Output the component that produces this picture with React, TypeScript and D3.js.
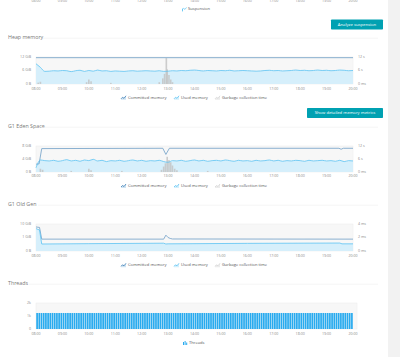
import React from 'react';
import * as d3 from 'd3';

const FONT = "'Open Sans', 'DejaVu Sans', sans-serif";

const HOUR_LABELS = ['08:00','09:00','10:00','11:00','12:00','13:00','14:00','15:00','16:00','17:00','18:00','19:00','20:00'];

// Heap memory (GiB), 10-minute samples from 08:00
const heapUsed = [
  9.0, 7.4, 5.6, 5.7, 5.9, 5.8,
  6.0, 5.9, 5.5, 5.9, 6.1, 5.6,
  6.0, 5.7, 6.2, 5.8, 5.9, 5.6,
  5.8, 5.7, 5.6, 5.8, 5.9, 5.7,
  5.8, 5.9, 5.8, 5.7, 5.9, 5.6,
  5.7, 5.9, 5.8, 6.0, 5.9, 6.1,
  6.2, 6.0, 5.8, 6.0, 5.9, 5.8,
  6.0, 5.9, 6.1, 5.8, 5.9, 6.0,
  5.9, 5.8, 5.7, 5.8, 6.0, 6.1,
  5.9, 6.0, 5.8, 5.9, 6.0, 6.2,
  6.0, 6.1, 5.9, 6.0, 6.2, 6.0,
  6.1, 5.9, 6.0, 6.2, 6.1, 5.9,
  6.0,
];
const heapCommittedTimes = ['08:00', '20:00'];
const heapCommitted = [11.7, 11.7];
const heapGcTimes = ['08:05','08:10','09:55','10:00','10:05','10:50','12:40','12:48','12:52','12:56','12:58','13:02','13:06','13:10'];
const heapGc = [0.6, 1.0, 0.8, 2.0, 1.2, 0.5, 0.8, 2.5, 4.5, 11.5, 6.5, 4.0, 2.0, 0.8];

// G1 Eden Space (GiB)
const edenUsed = [
  1.3, 3.7, 3.5, 3.4, 3.6, 3.3,
  3.5, 3.8, 3.4, 3.6, 3.3, 3.7,
  3.5, 3.9, 3.4, 3.6, 3.2, 3.5,
  3.4, 3.6, 3.3, 3.5, 3.7, 3.4,
  3.6, 3.3, 3.5, 3.4, 3.6, 3.2,
  3.0, 3.5, 3.4, 3.6, 3.3, 3.5,
  3.7, 3.4, 3.6, 3.3, 3.5, 3.6,
  3.4, 3.7, 3.5, 3.3, 3.6, 3.4,
  3.5, 3.3, 3.6, 3.4, 3.5, 3.7,
  3.4, 3.6, 3.3, 3.5, 3.4, 3.6,
  3.5, 3.3, 3.6, 3.4, 3.5, 3.6,
  3.4, 3.5, 3.3, 3.6, 3.2, 3.5,
  3.4,
];
const edenCommittedTimes = ['08:00','08:07','08:13','12:48','12:55','13:03','19:28','19:33','19:38','20:00'];
const edenCommitted = [2.4, 2.5, 7.2, 7.3, 5.4, 7.3, 7.3, 7.0, 7.3, 7.3];
const edenGcTimes = ['08:10','08:15','09:20','10:00','10:05','11:15','12:45','12:50','12:54','12:58','13:02','13:06','13:10','13:15','13:20','14:30'];
const edenGc = [1.5, 1.0, 0.5, 1.5, 0.8, 0.5, 1.0, 2.5, 4.0, 7.0, 5.5, 4.5, 3.0, 1.5, 0.8, 0.5];

// G1 Old Gen (GiB)
const oldCommittedTimes = ['08:00','08:08','08:13','12:50','12:55','13:00','13:05','13:10','20:00'];
const oldCommitted = [6.0, 5.5, 0.66, 0.66, 1.4, 0.9, 0.75, 0.68, 0.66];
const oldUsedTimes = ['08:00','08:08','08:13','10:00','12:50','12:55','13:00','16:00','19:30','19:35','20:00'];
const oldUsed = [4.5, 3.5, 0.23, 0.25, 0.28, 0.23, 0.24, 0.27, 0.29, 0.24, 0.24];

// Threads, 5-minute samples from 08:00
const threads = [
  1230, 1232, 1228, 1231, 1233, 1229, 1230, 1234, 1231, 1228, 1230, 1232,
  1231, 1229, 1233, 1230, 1228, 1232, 1231, 1230, 1229, 1233, 1231, 1230,
  1232, 1230, 1229, 1231, 1234, 1230, 1228, 1231, 1232, 1230, 1229, 1231,
  1230, 1233, 1231, 1229, 1230, 1232, 1231, 1228, 1230, 1233, 1231, 1230,
  1229, 1231, 1232, 1230, 1228, 1231, 1233, 1230, 1229, 1232, 1230, 1231,
  1230, 1228, 1231, 1233, 1230, 1229, 1232, 1231, 1230, 1228, 1231, 1232,
  1231, 1230, 1229, 1232, 1233, 1230, 1228, 1231, 1230, 1232, 1229, 1231,
  1230, 1232, 1231, 1229, 1230, 1233, 1231, 1228, 1230, 1232, 1231, 1230,
  1229, 1231, 1233, 1230, 1228, 1232, 1231, 1230, 1229, 1231, 1232, 1230,
  1231, 1230, 1228, 1232, 1233, 1230, 1229, 1231, 1230, 1232, 1231, 1229,
  1230, 1232, 1231, 1228, 1230, 1233, 1231, 1230, 1229, 1231, 1232, 1230,
  1231, 1229, 1230, 1232, 1231, 1230, 1228, 1231, 1233, 1230, 1229, 1231,
];

const toH = (s: string) => { const [h, m] = s.split(':').map(Number); return h + m / 60; };
const grid10 = (vals: number[]) => vals.map((_, i) => 8 + i / 6);

const X0 = 36, X1 = 353;
const x = d3.scaleLinear().domain([8, 20]).range([X0, X1]);

const C_COMMIT = '#6e9ec6';
const C_USED = '#5cc3f2';
const C_FILL = '#d6effb';
const C_GC = '#c4c4c4';
const C_TICK = '#8a8a8a';
const C_THREAD = '#29abef';

function linePath(times: number[], vals: number[], y: any, curve = d3.curveMonotoneX) {
  const pts = times.map((t, i) => [t, vals[i]] as [number, number]);
  return d3.line<[number, number]>().x(d => x(d[0])).y(d => y(d[1])).curve(curve)(pts) || '';
}
function areaPath(times: number[], vals: number[], y: any, y0: number, curve = d3.curveMonotoneX) {
  const pts = times.map((t, i) => [t, vals[i]] as [number, number]);
  return d3.area<[number, number]>().x(d => x(d[0])).y0(y0).y1(d => y(d[1])).curve(curve)(pts) || '';
}

function XLabels({ yPos }: { yPos: number }) {
  return (
    <g>
      {HOUR_LABELS.map(h => (
        <text key={h} x={x(toH(h))} y={yPos} textAnchor="middle" dominantBaseline="middle"
          fontSize={3.6} fill={C_TICK} fontFamily={FONT}>{h}</text>
      ))}
    </g>
  );
}

function YLabels({ ticks, y, side }: { ticks: { v: number; label: string }[]; y: any; side: 'left' | 'right' }) {
  return (
    <g>
      {ticks.map(t => (
        <text key={t.label} x={side === 'left' ? 31 : 358} y={y(t.v)} textAnchor={side === 'left' ? 'end' : 'start'}
          dominantBaseline="middle" fontSize={3.6} fill={C_TICK} fontFamily={FONT}>{t.label}</text>
      ))}
    </g>
  );
}

function PlotBg({ top, bottom, right = X1 }: { top: number; bottom: number; right?: number }) {
  return <rect x={X0} y={top} width={right - X0} height={bottom - top} fill="#f7f7f7" stroke="#ececec" strokeWidth={0.5} />;
}

function Title({ text, y, lineStart }: { text: string; y: number; lineStart: number }) {
  return (
    <g>
      <text x={8} y={y} dominantBaseline="middle" fontSize={5.3} fill="#777" fontFamily={FONT}>{text}</text>
      <line x1={lineStart} x2={378} y1={y + 0.7} y2={y + 0.7} stroke="#eeeeee" strokeWidth={0.6} />
    </g>
  );
}

function LineIcon({ x0, y0, color, fill }: { x0: number; y0: number; color: string; fill?: string }) {
  return (
    <g transform={`translate(${x0},${y0 - 2})`}>
      {fill && <path d="M0,4 L0,3 L1.5,1.5 L3,2.5 L5,0 L5,4 Z" fill={fill} />}
      <path d="M0,3 L1.5,1.5 L3,2.5 L5,0" fill="none" stroke={color} strokeWidth={0.8} />
    </g>
  );
}

function LegendText({ x0, y0, text }: { x0: number; y0: number; text: string }) {
  return <text x={x0} y={y0} dominantBaseline="middle" fontSize={4.1} fill="#555" fontFamily={FONT}>{text}</text>;
}

function MemLegend({ yPos }: { yPos: number }) {
  return (
    <g>
      <LineIcon x0={121} y0={yPos} color="#3f7fb5" fill="#cfe3f2" />
      <LegendText x0={128} y0={yPos} text="Committed memory" />
      <LineIcon x0={174} y0={yPos} color={C_USED} fill="#d3effc" />
      <LegendText x0={181} y0={yPos} text="Used memory" />
      <LineIcon x0={215} y0={yPos} color="#d5d5d5" fill="#ececec" />
      <LegendText x0={222} y0={yPos} text="Garbage collection time" />
    </g>
  );
}

function Button({ x0, y0, w, h, text }: { x0: number; y0: number; w: number; h: number; text: string }) {
  return (
    <g>
      <rect x={x0} y={y0} width={w} height={h} rx={0.8} fill="#00a1b2" />
      <text x={x0 + w / 2} y={y0 + h / 2} textAnchor="middle" dominantBaseline="middle" fontSize={4.2}
        fill="#fff" fontFamily={FONT}>{text}</text>
    </g>
  );
}

function GcBars({ times, vals, y, bottom }: { times: string[]; vals: number[]; y: any; bottom: number }) {
  return (
    <g>
      {times.map((t, i) => (
        <rect key={i} x={x(toH(t)) - 0.8} y={y(vals[i])} width={1.6} height={bottom - y(vals[i])} fill={C_GC} opacity={0.85} />
      ))}
    </g>
  );
}

export default function App() {
  // Heap
  const hTop = 57, hBot = 84;
  const yHeap = d3.scaleLinear().domain([0, 12]).range([hBot, hTop]);
  const yHeapGc = d3.scaleLinear().domain([0, 12]).range([hBot, hTop]);
  const heapT = grid10(heapUsed);

  // Eden
  const eTop = 146, eBot = 172;
  const yEden = d3.scaleLinear().domain([0, 8]).range([eBot, eTop]);
  const yEdenGc = d3.scaleLinear().domain([0, 12]).range([eBot, eTop]);
  const edenT = grid10(edenUsed);

  // Old Gen
  const oTop = 224, oBot = 251;
  const yOld = d3.scaleSymlog().constant(0.1).domain([0, 10]).range([oBot, oTop]);
  const yOldGc = d3.scaleLinear().domain([0, 4]).range([oBot, oTop]);

  // Threads
  const tTop = 303, tBot = 329;
  const yThr = d3.scaleLinear().domain([0, 2000]).range([tBot, tTop]);
  const step = 5 / 60;

  return (
    <svg width={400} height={357} style={{ position: 'absolute', left: 0, top: 0 }} fontFamily={FONT}>
      <rect x={0} y={0} width={400} height={357} fill="#ffffff" />
      <rect x={388} y={0} width={12} height={357} fill="#f2f2f2" />

      {/* Top (cut-off) suspension chart */}
      <XLabels yPos={0.6} />
      <g transform="translate(182,9.4)">
        <rect x={0} y={-0.5} width={0.9} height={2.5} fill={C_USED} />
        <path d="M0,0 L1.5,-1 L3,0 L4.5,-2" fill="none" stroke={C_USED} strokeWidth={0.7} />
      </g>
      <LegendText x0={188} y0={9.4} text="Suspension" />
      <Button x0={331} y0={19.5} w={52} h={10} text="Analyze suspension" />

      {/* Heap memory */}
      <Title text="Heap memory" y={37.5} lineStart={43} />
      <PlotBg top={hTop} bottom={hBot} />
      <path d={areaPath(heapT, heapUsed, yHeap, hBot)} fill={C_FILL} />
      <GcBars times={heapGcTimes} vals={heapGc} y={yHeapGc} bottom={hBot} />
      <path d={linePath(heapCommittedTimes.map(toH), heapCommitted, yHeap)} fill="none" stroke={C_COMMIT} strokeWidth={0.8} />
      <path d={linePath(heapT, heapUsed, yHeap)} fill="none" stroke={C_USED} strokeWidth={0.8} />
      <YLabels side="left" y={yHeap} ticks={[{ v: 12, label: '12 GiB' }, { v: 6, label: '6 GiB' }, { v: 0, label: '0 B' }]} />
      <YLabels side="right" y={yHeapGc} ticks={[{ v: 12, label: '12 s' }, { v: 6, label: '6 s' }, { v: 0, label: '0 ms' }]} />
      <XLabels yPos={hBot + 4.6} />
      <MemLegend yPos={97.8} />
      <Button x0={307} y0={108} w={76} h={10} text="Show detailed memory metrics" />

      {/* G1 Eden Space */}
      <Title text="G1 Eden Space" y={126.5} lineStart={42} />
      <PlotBg top={eTop} bottom={eBot} />
      <path d={areaPath(edenT, edenUsed, yEden, eBot)} fill={C_FILL} />
      <GcBars times={edenGcTimes} vals={edenGc} y={yEdenGc} bottom={eBot} />
      <path d={linePath(edenCommittedTimes.map(toH), edenCommitted, yEden, d3.curveLinear)} fill="none" stroke={C_COMMIT} strokeWidth={0.8} />
      <path d={linePath(edenT, edenUsed, yEden)} fill="none" stroke={C_USED} strokeWidth={0.8} />
      <YLabels side="left" y={yEden} ticks={[{ v: 8, label: '8 GiB' }, { v: 4, label: '4 GiB' }, { v: 0, label: '0 B' }]} />
      <YLabels side="right" y={yEdenGc} ticks={[{ v: 12, label: '12 s' }, { v: 6, label: '6 s' }, { v: 0, label: '0 ms' }]} />
      <XLabels yPos={eBot + 4.4} />
      <MemLegend yPos={186} />

      {/* G1 Old Gen */}
      <Title text="G1 Old Gen" y={204.5} lineStart={38} />
      <PlotBg top={oTop} bottom={oBot} />
      <path d={areaPath(oldUsedTimes.map(toH), oldUsed, yOld, oBot, d3.curveLinear)} fill={C_FILL} />
      <path d={linePath(oldCommittedTimes.map(toH), oldCommitted, yOld, d3.curveLinear)} fill="none" stroke={C_COMMIT} strokeWidth={0.8} />
      <path d={linePath(oldUsedTimes.map(toH), oldUsed, yOld, d3.curveLinear)} fill="none" stroke={C_USED} strokeWidth={0.8} />
      <YLabels side="left" y={yOld} ticks={[{ v: 10, label: '10 GiB' }, { v: 1, label: '1 GiB' }, { v: 0, label: '0 B' }]} />
      <YLabels side="right" y={yOldGc} ticks={[{ v: 4, label: '4 ms' }, { v: 2, label: '2 ms' }, { v: 0, label: '0 ms' }]} />
      <XLabels yPos={oBot + 4.7} />
      <MemLegend yPos={265.3} />

      {/* Threads */}
      <Title text="Threads" y={283.5} lineStart={29} />
      <PlotBg top={tTop} bottom={tBot} right={357} />
      {threads.map((v, i) => {
        const t0 = 8 + i * step;
        const xa = x(t0), xb = x(t0 + step);
        return <rect key={i} x={xa + 0.25} y={yThr(v)} width={(xb - xa) - 0.5} height={tBot - yThr(v)} fill={C_THREAD} />;
      })}
      <YLabels side="left" y={yThr} ticks={[{ v: 2000, label: '2k' }, { v: 1000, label: '1k' }, { v: 0, label: '0' }]} />
      <XLabels yPos={tBot + 5} />
      <g transform="translate(183,343)">
        <rect x={0} y={-1} width={1} height={3} fill={C_THREAD} />
        <rect x={1.6} y={-2} width={1} height={4} fill={C_THREAD} />
        <rect x={3.2} y={-0.5} width={1} height={2.5} fill={C_THREAD} />
      </g>
      <LegendText x0={189} y0={343} text="Threads" />
    </svg>
  );
}
